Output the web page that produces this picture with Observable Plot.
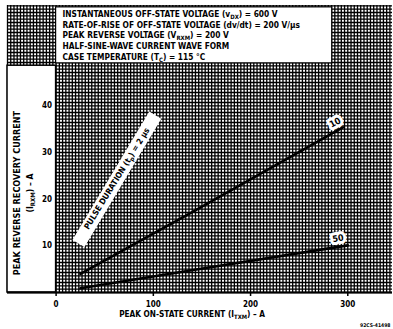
<!DOCTYPE html>
<html><head><meta charset="utf-8">
<script src="https://cdn.jsdelivr.net/npm/d3@7"></script>
<script src="https://cdn.jsdelivr.net/npm/@observablehq/plot@0.6"></script>
<style>body{margin:0;background:#fff} svg{display:block}</style>
</head><body><div id="chart"></div>
<script>
// Curves: peak reverse recovery current vs peak on-state current
const current10 = [25, 140, 295];
const recovery10 = [4.0, 17.2, 35.4];
const current50 = [25, 138, 300];
const recovery50 = [0.9, 4.7, 10.1];
// 2 µs curve (shown as labelled white band)
const current2 = [23, 102];
const recovery2 = [10.5, 38];
const curveLabels = ["10", "50"];
const curveLabelX = [287, 290];
const curveLabelY = [36.4, 11.6];
const pulseLabel = "PULSE DURATION (t_{p}) = 2 µs";
const pulseLabelX = [62.5];
const pulseLabelY = [24.4];
// Axis ticks
const xTicks = [0, 100, 200, 300];
const yTicks = [10, 20, 30, 40];
const xTitle = "PEAK ON-STATE CURRENT (I_{TXM}) – A";
const yTitle1 = "PEAK REVERSE RECOVERY CURRENT";
const yTitle2 = "(I_{RXM}) – A";
// Conditions box
const conditions = [
  "INSTANTANEOUS OFF-STATE VOLTAGE (v_{DX}) = 600 V",
  "RATE-OF-RISE OF OFF-STATE VOLTAGE (dv/dt) = 200 V/µs",
  "PEAK REVERSE VOLTAGE (V_{RXM}) = 200 V",
  "HALF-SINE-WAVE CURRENT WAVE FORM",
  "CASE TEMPERATURE (T_{C}) = 115 °C"
];
const conditionY = [59.6, 57.3, 55.0, 52.7, 50.4];
const conditionBox = [{x1: 0, x2: 284, y1: 49.1, y2: 61.1}];
const labelBox = [{x1: -50, x2: 0, y1: 0, y2: 48.6}];

const font = "'DejaVu Sans Condensed', 'DejaVu Sans', sans-serif";
const xDomain = [-50, 346];
const yDomain = [0, 61.5];
const gridX = d3.range(-50, 346, 100 / 30);
const gridY = d3.range(0, 61.5, 10 / 14);

const line10 = current10.map((x, i) => ({x, y: recovery10[i]}));
const line50 = current50.map((x, i) => ({x, y: recovery50[i]}));
const band = current2.map((x, i) => ({x, y: recovery2[i]}));

const chart = Plot.plot({
  width: 393, height: 329,
  marginLeft: 7, marginRight: 1, marginTop: 5, marginBottom: 37,
  x: {domain: xDomain, axis: null},
  y: {domain: yDomain, axis: null},
  style: {fontFamily: font, fontWeight: "bold", background: "white", color: "black"},
  marks: [
    Plot.ruleX(gridX, {y1: yDomain[0], y2: yDomain[1], stroke: "black", strokeWidth: 1.3}),
    Plot.ruleY(gridY, {x1: xDomain[0], x2: xDomain[1], stroke: "black", strokeWidth: 1.3}),
    Plot.rect(conditionBox, {x1: "x1", x2: "x2", y1: "y1", y2: "y2", fill: "white", stroke: "black", strokeWidth: 1.2}),
    Plot.rect(labelBox, {x1: "x1", x2: "x2", y1: "y1", y2: "y2", fill: "white", stroke: "black", strokeWidth: 1.5}),
    Plot.ruleY([0], {x1: xDomain[0], x2: xDomain[1], stroke: "black", strokeWidth: 2}),
    Plot.line(band, {x: "x", y: "y", stroke: "white", strokeWidth: 14, strokeLinecap: "butt"}),
    Plot.line(line10, {x: "x", y: "y", stroke: "black", strokeWidth: 2.6}),
    Plot.line(line50, {x: "x", y: "y", stroke: "black", strokeWidth: 2.6}),
    Plot.text(curveLabels, {x: (d, i) => curveLabelX[i], y: (d, i) => curveLabelY[i], text: d => d, rotate: (d, i) => i === 0 ? -28 : -10, fontSize: 9, stroke: "white", strokeWidth: 6, fill: "black"}),
    Plot.text([pulseLabel], {x: pulseLabelX, y: pulseLabelY, text: d => d, rotate: -58.5, fontSize: 8.2}),
    Plot.text(conditions, {x: 6.6, y: conditionY, text: d => d, textAnchor: "start", fontSize: 8.3}),
    Plot.text(yTicks, {x: 0, y: d => d, dx: -4, textAnchor: "end", fontSize: 8, text: d => String(d)}),
    Plot.axisX(xTicks, {tickSize: 4, tickPadding: 5, fontSize: 8, fontWeight: "bold", strokeWidth: 1.5}),
    Plot.text([xTitle], {frameAnchor: "bottom", dx: -8, dy: 24, fontSize: 8.2}),
    Plot.text([yTitle1], {x: -40, y: 21.3, rotate: -90, fontSize: 9}),
    Plot.text([yTitle2], {x: -26.5, y: 21.3, rotate: -90, fontSize: 8.5}),
    Plot.text(["92CS-41498"], {frameAnchor: "bottom-right", dx: -2, dy: 34, fontSize: 5})
  ]
});

// Render subscripts written as _{...} with tspans shifted by dy
chart.querySelectorAll("text").forEach(t => {
  const s = t.textContent;
  if (!s.includes("_{") || t.querySelector("tspan")) return;
  const parts = s.split(/(_\{[^}]*\})/).filter(p => p);
  t.textContent = "";
  let shifted = false;
  for (const p of parts) {
    const ts = document.createElementNS("http://www.w3.org/2000/svg", "tspan");
    if (p.startsWith("_{")) {
      ts.textContent = p.slice(2, -1);
      ts.setAttribute("dy", "2");
      ts.setAttribute("font-size", "0.72em");
      shifted = true;
    } else {
      ts.textContent = p;
      if (shifted) { ts.setAttribute("dy", "-2"); shifted = false; }
    }
    t.appendChild(ts);
  }
});
document.getElementById("chart").appendChild(chart);
</script>
</body></html>
